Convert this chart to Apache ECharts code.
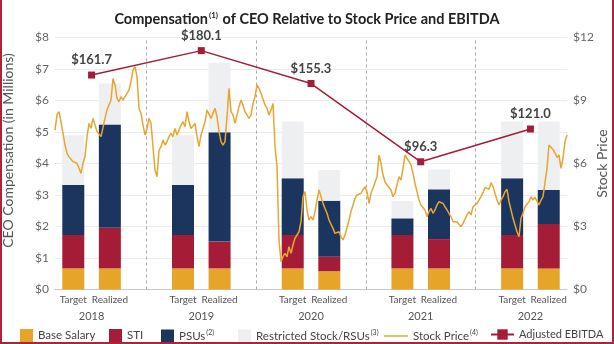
<!DOCTYPE html>
<html>
<head>
<meta charset="utf-8">
<script src="https://cdn.jsdelivr.net/npm/echarts@6/dist/echarts.min.js"></script>
<style>
  html, body { margin: 0; padding: 0; background: #fff; }
  #wrap { position: relative; width: 614px; height: 344px; }
  #chart { position: absolute; left: 0; top: 0; width: 614px; height: 344px; }
  #frame { position: absolute; left: 0; top: 0; width: 614px; height: 344px; box-sizing: border-box;
           border-left: 2px solid #B0223A; border-right: 2px solid #B0223A; border-bottom: 2px solid #B0223A;
           pointer-events: none; }
</style>
</head>
<body>
<div id="wrap"><div id="chart"></div><div id="frame"></div></div>
<script>
// Fiscal years and the two pay views shown for each
const years = ['2018', '2019', '2020', '2021', '2022'];
const views = ['Target', 'Realized'];

// CEO pay components, $ millions, ordered Target/Realized per year
const baseSalary = [0.67, 0.67, 0.67, 0.67, 0.67, 0.58, 0.67, 0.67, 0.67, 0.67];
const sti        = [1.06, 1.29, 1.06, 0.85, 1.06, 0.46, 1.06, 0.93, 1.06, 1.41];
const psus       = [1.59, 3.28, 1.59, 3.47, 1.80, 1.78, 0.53, 1.58, 1.80, 1.08];
const rsus       = [1.58, 1.30, 1.58, 2.21, 1.80, 0.97, 0.55, 0.63, 1.80, 2.17];

// Adjusted EBITDA, $ millions, one value per year
const ebitda = [161.7, 180.1, 155.3, 96.3, 121.0];

// Axis tick labels
const compTicks = [0, 1, 2, 3, 4, 5, 6, 7, 8];
const priceTicks = [0, 3, 6, 9, 12];

// Daily stock price, 2018 through 2022 (sampled)
const stockPrice = [
  7.59, 8.31, 8.47, 7.99, 7.44, 6.88, 6.48, 6.32, 6.40, 6.09, 6.17, 6.01, 5.77, 5.53, 6.01, 6.32, 7.28, 7.91, 7.67, 8.15,
  8.07, 7.53, 7.53, 7.28, 7.20, 8.15, 8.55, 8.63, 9.02, 10.05, 9.74, 9.10, 8.94, 9.18, 9.02, 9.10, 9.34, 9.50, 9.90, 10.45,
  10.61, 10.13, 8.63, 8.39, 7.83, 7.36, 7.67, 8.15, 7.91, 6.80, 5.69, 5.37, 6.64,
  6.80, 7.12, 6.88, 7.04, 7.28, 7.44, 7.28, 7.67, 7.36, 7.59, 7.83, 7.99, 7.75, 8.47, 7.99, 7.67, 7.59, 7.91, 7.28, 6.80,
  7.36, 7.67, 7.99, 8.55, 8.47, 8.15, 8.39, 8.63, 8.23, 7.53, 7.04, 6.88, 7.04, 8.23, 9.58, 8.47, 8.31, 7.91, 7.83, 8.71,
  9.02, 8.78, 8.47, 8.55, 8.15, 8.31, 8.86, 9.18, 9.74, 9.58, 9.34, 9.26,
  8.79, 8.63, 8.31, 8.55, 8.86, 6.80, 5.85, 2.36, 1.32, 1.56, 1.72, 1.56, 2.04, 1.72, 2.12, 2.44, 2.36, 2.75, 3.23, 4.42,
  4.66, 3.79, 3.31, 3.47, 3.31, 3.71, 4.26, 4.74, 4.66, 4.10, 3.86, 3.63, 3.31, 3.23, 2.91, 2.67, 2.59, 2.75, 2.51, 2.36,
  2.59, 2.67, 3.31, 3.71, 4.02, 4.34, 4.50, 4.42, 4.58, 4.74, 4.90, 4.66,
  4.10, 4.58, 4.82, 4.90, 5.37, 6.40, 6.01, 5.45, 5.13, 4.98, 4.98, 4.74, 4.42, 4.58, 4.98, 5.37, 5.21, 5.77, 6.40, 6.25,
  6.17, 5.93, 5.53, 5.05, 4.66, 4.26, 4.02, 4.10, 3.79, 3.47, 3.71, 3.86, 3.63, 3.79, 4.02, 4.18, 4.18, 4.10, 3.94, 3.79,
  3.63, 3.47, 3.23, 3.15, 3.23, 3.15, 2.99, 3.15, 3.23, 3.55, 3.71, 3.55,
  3.94, 3.86, 4.10, 4.13, 4.42, 4.61, 4.86, 4.90, 4.77, 5.09, 4.90, 4.90, 4.26, 4.02, 4.26, 4.42, 4.66, 4.77, 4.18, 3.79,
  3.39, 3.07, 2.75, 2.51, 3.39, 3.63, 3.94, 4.07, 4.18, 4.42, 4.26, 4.39, 4.42, 4.02, 4.26, 4.42, 4.45, 5.77, 6.88, 6.80,
  6.67, 6.51, 6.29, 6.40, 5.77, 6.25, 7.04, 7.36
];

// Footnote marks printed after some names
const footnotes = { 'PSUs': '(2)', 'Restricted Stock/RSUs': '(3)', 'Stock Price': '(4)' };

const COLORS = {
  base: '#E6A528', sti: '#A51C36', psu: '#1C355E', rsu: '#EEEFF1',
  stock: '#E8A530', ebitda: '#A51C36', text: '#444', axis: '#666'
};
const FONT = 'Lato, "Open Sans", sans-serif';

// Bar slots: Target, Realized, spacer, Target, Realized, spacer, ...
const barCategories = [];
years.forEach((y, i) => {
  views.forEach(v => barCategories.push(v));
  if (i < years.length - 1) barCategories.push('');
});
function spread(values) {
  const out = [];
  years.forEach((y, i) => {
    out.push(values[2 * i], values[2 * i + 1]);
    if (i < years.length - 1) out.push(null);
  });
  return out;
}
// Spacer slot positions carry the dashed year dividers
const dividerIdx = [];
barCategories.forEach((c, i) => { if (c === '') dividerIdx.push(i); });

// Year axis: points at slot boundaries, year sits between its two bars
const yearSlots = [];
const ebitdaSlots = [];
for (let i = 0; i <= barCategories.length; i++) { yearSlots.push(''); ebitdaSlots.push(null); }
years.forEach((y, i) => { yearSlots[3 * i + 1] = y; ebitdaSlots[3 * i + 1] = ebitda[i]; });

const stockIdx = stockPrice.map((v, i) => i);

const barBase = { type: 'bar', stack: 'pay', xAxisIndex: 0, yAxisIndex: 0, barWidth: 22 };

// One legend block per entry so each sits at its own spot along the bottom row
function legendText(size) {
  return {
    fontFamily: FONT, fontSize: size, color: COLORS.text,
    rich: { sup: { fontFamily: FONT, fontSize: 7, color: COLORS.text, verticalAlign: 'top', padding: [0, 0, 7, 1] } }
  };
}
function legendItem(entry, left, extra) {
  return Object.assign({
    data: [entry], left: left, top: 324, itemWidth: 13, itemHeight: 13, itemGap: 0,
    formatter: n => footnotes[n] ? n + '{sup|' + footnotes[n] + '}' : n,
    textStyle: legendText(11.5)
  }, extra || {});
}

const chart = echarts.init(document.getElementById('chart'), null, { renderer: 'canvas' });
chart.setOption({
  animation: false,
  textStyle: { fontFamily: FONT },
  title: {
    text: 'Compensation{sup|(1)} of CEO Relative to Stock Price and EBITDA',
    left: 'center', top: 6,
    textStyle: {
      fontFamily: FONT, fontSize: 14.5, fontWeight: 'bold', color: '#222',
      rich: { sup: { fontFamily: FONT, fontSize: 8, fontWeight: 'bold', color: '#222', verticalAlign: 'top', padding: [0, 1, 8, 1] } }
    }
  },
  // fixed plot box: axis names sit in the margins without shrinking it
  grid: { left: 55, right: 47, top: 37.5, bottom: 54.5, containLabel: false, outerBoundsMode: 'none' },
  legend: [
    legendItem({ name: 'Base Salary', icon: 'rect' }, 15),
    legendItem({ name: 'STI', icon: 'rect' }, 104),
    legendItem({ name: 'PSUs', icon: 'rect' }, 156),
    legendItem({ name: 'Restricted Stock/RSUs', icon: 'rect' }, 233),
    legendItem({ name: 'Stock Price', icon: 'path://M0 0H26V1.6H0Z' }, 379, { itemWidth: 24 }),
    legendItem({ name: 'Adjusted EBITDA' }, 485, { itemWidth: 23, textStyle: legendText(11) })
  ],
  xAxis: [
    {
      type: 'category', data: barCategories, position: 'bottom',
      axisLine: { lineStyle: { color: '#c8c8c8' } }, axisTick: { show: false },
      axisLabel: { interval: 0, color: '#555', fontSize: 10, margin: 5, fontFamily: FONT }
    },
    {
      type: 'category', data: yearSlots, boundaryGap: false, position: 'bottom',
      axisLine: { show: false }, axisTick: { show: false },
      axisLabel: { interval: 0, color: '#555', fontSize: 11, margin: 21, fontFamily: FONT }
    },
    { type: 'category', data: stockIdx, boundaryGap: false, show: false }
  ],
  yAxis: [
    {
      type: 'value', min: 0, max: 8, interval: 1, position: 'left',
      axisLine: { show: false }, axisTick: { show: false },
      splitLine: { lineStyle: { color: '#ececec' } },
      axisLabel: { formatter: v => compTicks.includes(v) ? '$' + v : '', color: COLORS.axis, fontSize: 12, margin: 6, fontFamily: FONT },
      name: 'CEO Compensation (in Millions)', nameLocation: 'middle', nameGap: 40, nameRotate: 90, nameMoveOverlap: false,
      nameTextStyle: { color: '#555', fontSize: 14, fontFamily: FONT, padding: [0, 0, 0, 26] }
    },
    {
      type: 'value', min: 0, max: 12, interval: 3, position: 'right',
      axisLine: { show: false }, axisTick: { show: false }, splitLine: { show: false },
      axisLabel: { formatter: v => priceTicks.includes(v) ? '$' + v : '', color: COLORS.axis, fontSize: 12, margin: 6, fontFamily: FONT },
      name: 'Stock Price', nameLocation: 'middle', nameGap: 28, nameRotate: 90, nameMoveOverlap: false,
      nameTextStyle: { color: '#555', fontSize: 14, fontFamily: FONT }
    },
    { type: 'value', min: 0, max: 190, show: false }
  ],
  series: [
    Object.assign({}, barBase, {
      name: 'Base Salary', data: spread(baseSalary), itemStyle: { color: COLORS.base },
      markLine: {
        silent: true, symbol: 'none', label: { show: false },
        lineStyle: { color: '#aaa', type: [3, 3], width: 1 },
        data: dividerIdx.map(i => ({ xAxis: i }))
      }
    }),
    Object.assign({}, barBase, { name: 'STI', data: spread(sti), itemStyle: { color: COLORS.sti } }),
    Object.assign({}, barBase, { name: 'PSUs', data: spread(psus), itemStyle: { color: COLORS.psu } }),
    Object.assign({}, barBase, { name: 'Restricted Stock/RSUs', data: spread(rsus), itemStyle: { color: COLORS.rsu } }),
    {
      name: 'Stock Price', type: 'line', xAxisIndex: 2, yAxisIndex: 1, data: stockPrice,
      symbol: 'none', showSymbol: false, z: 5,
      itemStyle: { color: COLORS.stock }, lineStyle: { color: COLORS.stock, width: 1.5 }
    },
    {
      name: 'Adjusted EBITDA', type: 'line', xAxisIndex: 1, yAxisIndex: 2, data: ebitdaSlots,
      connectNulls: true, symbol: 'rect', symbolSize: 7, z: 6,
      itemStyle: { color: COLORS.ebitda }, lineStyle: { color: COLORS.ebitda, width: 1.5 },
      label: {
        show: true, position: 'top', distance: 5, formatter: p => '$' + p.value.toFixed(1),
        fontFamily: FONT, fontWeight: 'bold', fontSize: 13, color: COLORS.text
      }
    }
  ]
});
</script>
</body>
</html>
